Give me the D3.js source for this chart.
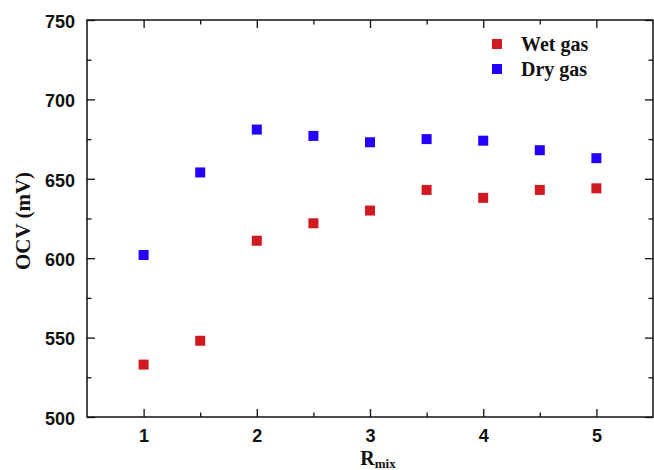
<!DOCTYPE html>
<html>
<head>
<meta charset="utf-8">
<script src="https://cdn.jsdelivr.net/npm/d3@7"></script>
<style>
  html, body { margin: 0; padding: 0; background: #fff; }
  svg { display: block; }
</style>
</head>
<body>
<svg id="chart" width="654" height="470"></svg>
<script>
const rmix = [1, 1.5, 2, 2.5, 3, 3.5, 4, 4.5, 5];
const wetGas = [533, 548, 611, 622, 630, 643, 638, 643, 644];
const dryGas = [602, 654, 681, 677, 673, 675, 674, 668, 663];
const xTicks = [1, 2, 3, 4, 5];
const yTicks = [500, 550, 600, 650, 700, 750];
const seriesNames = ["Wet gas", "Dry gas"];
const seriesColors = ["#d11a20", "#2200fa"];

(function () {
const svg = d3.select("#chart");
const pL = 87, pR = 653, pT = 20, pB = 417;

const x = d3.scaleLinear().domain([0.5, 5.5]).range([pL, pR]);
const y = d3.scaleLinear().domain([500, 750]).range([pB, pT]);

const xMinor = d3.range(1.5, 5.5, 1);
const yMinor = d3.range(525, 750, 50);

const tickColor = "#111";

// frame
svg.append("rect")
  .attr("x", pL).attr("y", pT)
  .attr("width", pR - pL).attr("height", pB - pT)
  .attr("fill", "none").attr("stroke", tickColor).attr("stroke-width", 1.5);

function styleAxis(g) {
  g.select(".domain").remove();
  g.selectAll(".tick line").attr("stroke", tickColor).attr("stroke-width", 1.3);
}

// bottom axis
svg.append("g").attr("transform", `translate(0,${pB})`)
  .call(d3.axisBottom(x).tickValues(xTicks).tickSize(-8).tickPadding(12).tickFormat(d3.format("d")))
  .call(styleAxis)
  .call(g => g.selectAll("text").attr("font-family", "Liberation Sans, Arial, sans-serif")
    .attr("font-weight", "bold").attr("font-size", 18).attr("fill", "#111"));
svg.append("g").attr("transform", `translate(0,${pB})`)
  .call(d3.axisBottom(x).tickValues(xMinor).tickSize(-4.5).tickFormat(""))
  .call(styleAxis);

// top axis
svg.append("g").attr("transform", `translate(0,${pT})`)
  .call(d3.axisTop(x).tickValues(xTicks).tickSize(-8).tickFormat(""))
  .call(styleAxis);
svg.append("g").attr("transform", `translate(0,${pT})`)
  .call(d3.axisTop(x).tickValues(xMinor).tickSize(-4.5).tickFormat(""))
  .call(styleAxis);

// left axis
svg.append("g").attr("transform", `translate(${pL},0)`)
  .call(d3.axisLeft(y).tickValues(yTicks).tickSize(-8).tickPadding(12).tickFormat(d3.format("d")))
  .call(styleAxis)
  .call(g => g.selectAll("text").attr("font-family", "Liberation Sans, Arial, sans-serif")
    .attr("font-weight", "bold").attr("font-size", 18).attr("fill", "#111").attr("dy", "0.4em"));
svg.append("g").attr("transform", `translate(${pL},0)`)
  .call(d3.axisLeft(y).tickValues(yMinor).tickSize(-4.5).tickFormat(""))
  .call(styleAxis);

// right axis
svg.append("g").attr("transform", `translate(${pR},0)`)
  .call(d3.axisRight(y).tickValues(yTicks).tickSize(-8).tickFormat(""))
  .call(styleAxis);
svg.append("g").attr("transform", `translate(${pR},0)`)
  .call(d3.axisRight(y).tickValues(yMinor).tickSize(-4.5).tickFormat(""))
  .call(styleAxis);

// data
const size = 10;
const series = [wetGas, dryGas];
series.forEach((vals, i) => {
  svg.append("g").selectAll("rect")
    .data(rmix.map((r, j) => [r, vals[j]]))
    .join("rect")
    .attr("x", d => x(d[0]) - size / 2)
    .attr("y", d => y(d[1]) - size / 2)
    .attr("width", size).attr("height", size)
    .attr("fill", seriesColors[i]);
});

// legend
const legend = svg.append("g");
seriesNames.forEach((name, i) => {
  const cy = 44 + i * 25;
  legend.append("rect").attr("x", 492).attr("y", cy - 5)
    .attr("width", size).attr("height", size).attr("fill", seriesColors[i]);
  legend.append("text").attr("x", 521).attr("y", cy + 6.5)
    .attr("font-family", "Liberation Serif, Times New Roman, serif")
    .attr("font-weight", "bold").attr("font-size", 20).attr("fill", "#111")
    .text(name);
});

// y axis title
svg.append("text")
  .attr("transform", `translate(30,221) rotate(-90)`)
  .attr("text-anchor", "middle")
  .attr("font-family", "Liberation Serif, Times New Roman, serif")
  .attr("font-weight", "bold").attr("font-size", 21).attr("fill", "#111")
  .text("OCV (mV)");

// x axis title
const xt = svg.append("text")
  .attr("x", 378).attr("y", 465)
  .attr("text-anchor", "middle")
  .attr("font-family", "Liberation Serif, Times New Roman, serif")
  .attr("font-weight", "bold").attr("font-size", 20).attr("fill", "#111");
xt.append("tspan").text("R");
xt.append("tspan").attr("font-size", 13).attr("dy", 3).text("mix");
})();
</script>
</body>
</html>
